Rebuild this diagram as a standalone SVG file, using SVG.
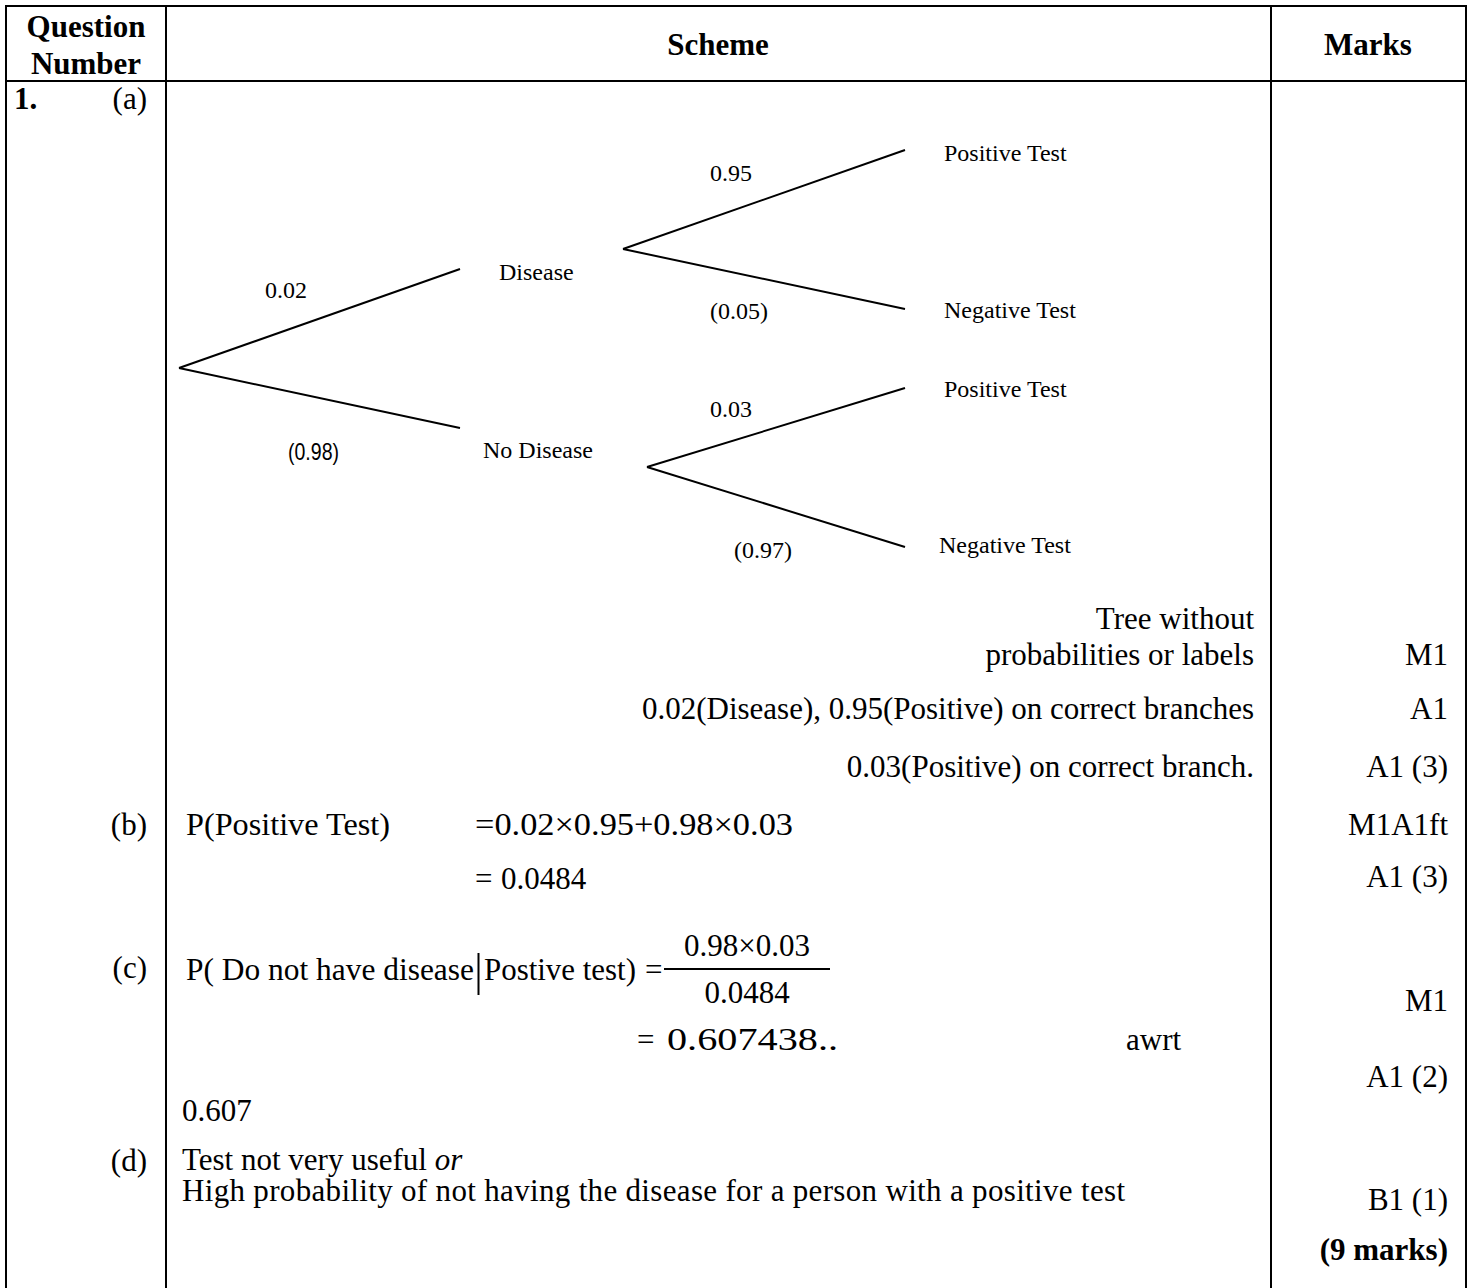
<svg xmlns="http://www.w3.org/2000/svg" width="1472" height="1288" viewBox="0 0 1472 1288">
<style>
.t{font-family:"Liberation Serif","Times New Roman",serif;font-size:31px;fill:#000}
.b{font-weight:bold}
.e{text-anchor:end}
.m{text-anchor:middle}
.s{font-family:"Liberation Serif","Times New Roman",serif;font-size:24px;fill:#000}
.a{font-family:"Liberation Sans",Arial,sans-serif;font-size:24px;fill:#000}
.g{stroke:#000;stroke-width:2;fill:none}
.c{stroke:#000;stroke-width:2;fill:none}
</style>
<rect width="1472" height="1288" fill="#fff"/>
<g id="table">
<line class="g" x1="6" y1="6" x2="1466" y2="6"/>
<line class="g" x1="6" y1="81" x2="1466" y2="81"/>
<line class="g" x1="6" y1="5" x2="6" y2="1288"/>
<line class="g" x1="166" y1="5" x2="166" y2="1288"/>
<line class="g" x1="1271" y1="5" x2="1271" y2="1288"/>
<line class="g" x1="1466" y1="5" x2="1466" y2="1288"/>
</g>
<g id="header">
<text class="t b m" x="86" y="37">Question</text>
<text class="t b m" x="86" y="74">Number</text>
<text class="t b m" x="718" y="55">Scheme</text>
<text class="t b m" x="1368" y="55">Marks</text>
</g>
<g id="qnum">
<text class="t b" x="14" y="109">1.</text>
<text class="t e" x="147" y="109">(a)</text>
<text class="t e" x="147" y="835">(b)</text>
<text class="t e" x="147" y="978">(c)</text>
<text class="t e" x="147" y="1171">(d)</text>
</g>
<g id="connectors">
<line class="c" x1="179" y1="368" x2="460" y2="269"/>
<line class="c" x1="179" y1="368" x2="460" y2="428"/>
<line class="c" x1="623" y1="249" x2="905" y2="150"/>
<line class="c" x1="623" y1="249" x2="905" y2="309"/>
<line class="c" x1="647" y1="467" x2="905" y2="388"/>
<line class="c" x1="647" y1="467" x2="905" y2="547"/>
</g>
<g id="node-disease"><text class="s" x="499" y="280">Disease</text></g>
<g id="node-nodisease"><text class="s" x="483" y="458">No Disease</text></g>
<g id="node-pos1"><text class="s" x="944" y="161">Positive Test</text></g>
<g id="node-neg1"><text class="s" x="944" y="318">Negative Test</text></g>
<g id="node-pos2"><text class="s" x="944" y="397">Positive Test</text></g>
<g id="node-neg2"><text class="s" x="939" y="553">Negative Test</text></g>
<g id="branch-labels">
<text class="s" x="265" y="298">0.02</text>
<text class="a" x="288" y="460" textLength="51" lengthAdjust="spacingAndGlyphs">(0.98)</text>
<text class="s" x="710" y="181">0.95</text>
<text class="s" x="710" y="319">(0.05)</text>
<text class="s" x="710" y="417">0.03</text>
<text class="s" x="734" y="558">(0.97)</text>
</g>
<g id="scheme">
<text class="t e" x="1254" y="629">Tree without</text>
<text class="t e" x="1254" y="665">probabilities or labels</text>
<text class="t e" x="1254" y="719">0.02(Disease), 0.95(Positive) on correct branches</text>
<text class="t e" x="1254" y="777">0.03(Positive) on correct branch.</text>
<text class="t" x="186" y="835" textLength="204" lengthAdjust="spacingAndGlyphs">P(Positive Test)</text>
<text class="t" x="475" y="835" textLength="318" lengthAdjust="spacingAndGlyphs">=0.02×0.95+0.98×0.03</text>
<text class="t" x="475" y="889">=</text>
<text class="t" x="501" y="889">0.0484</text>
<text class="t" x="186" y="980" textLength="288" lengthAdjust="spacingAndGlyphs">P( Do not have disease</text>
<line class="c" x1="478.5" y1="953" x2="478.5" y2="995" stroke-width="1.5"/>
<text class="t" x="484" y="980" textLength="152" lengthAdjust="spacingAndGlyphs">Postive test)</text>
<text class="t" x="645" y="980">=</text>
<text class="t m" x="747" y="956">0.98×0.03</text>
<line class="c" x1="664" y1="969" x2="830" y2="969" stroke-width="1.5"/>
<text class="t m" x="747" y="1003">0.0484</text>
<text class="t" x="637" y="1050">=</text>
<text class="t" x="667" y="1050" textLength="171" lengthAdjust="spacingAndGlyphs">0.607438..</text>
<text class="t" x="1126" y="1050">awrt</text>
<text class="t" x="182" y="1121">0.607</text>
<text class="t" x="182" y="1170">Test not very useful <tspan font-style="italic">or</tspan></text>
<text class="t" x="182" y="1201" textLength="943" lengthAdjust="spacing">High probability of not having the disease for a person with a positive test</text>
</g>
<g id="marks">
<text class="t e" x="1448" y="665">M1</text>
<text class="t e" x="1448" y="719">A1</text>
<text class="t e" x="1448" y="777">A1 (3)</text>
<text class="t e" x="1448" y="835">M1A1ft</text>
<text class="t e" x="1448" y="887">A1 (3)</text>
<text class="t e" x="1448" y="1011">M1</text>
<text class="t e" x="1448" y="1087">A1 (2)</text>
<text class="t e" x="1448" y="1210">B1 (1)</text>
<text class="t b e" x="1448" y="1260">(9 marks)</text>
</g>
</svg>
